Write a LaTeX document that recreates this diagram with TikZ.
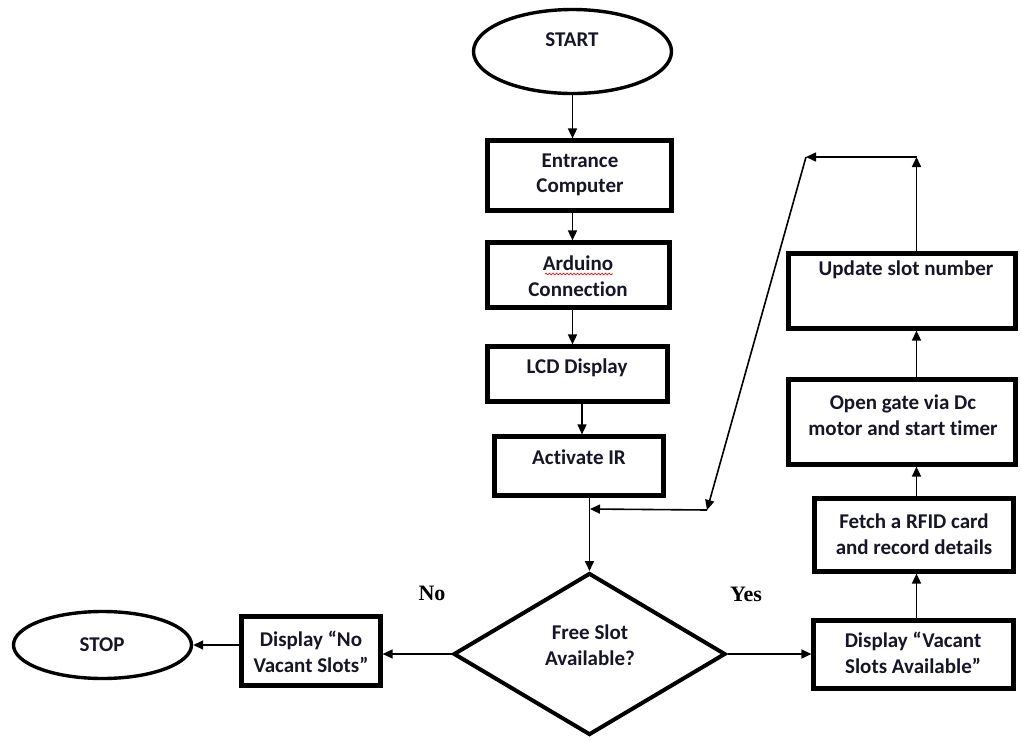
\documentclass[tikz,border=0pt]{standalone}
\usepackage{fontspec}
\setmainfont[Ligatures=NoCommon]{Carlito}
\newfontfamily\yesnofont{Liberation Serif}
\usetikzlibrary{arrows.meta,shapes.geometric,decorations.pathmorphing}
\definecolor{txt}{RGB}{22,22,40}
\tikzset{
  box/.style={draw=black, line width=4.2pt, rectangle, inner sep=0pt},
  oval/.style={draw=black, line width=3.4pt, ellipse, inner sep=0pt},
  dec/.style={draw=black, line width=4pt, diamond, inner sep=0pt},
  lbl/.style={text=txt, font=\bfseries\fontsize{21}{25.5}\selectfont, align=center, inner sep=0pt},
  yn/.style={text=black, font=\yesnofont\bfseries\fontsize{22}{26}\selectfont, inner sep=0pt},
  arr/.style={draw=black, line width=1.6pt, -{Triangle[length=10pt,width=9pt]}}
}
\begin{document}
\begin{tikzpicture}[x=1pt,y=-1pt]
\useasboundingbox (0,0) rectangle (1021,740);
% shapes
\node[oval, minimum width=198, minimum height=84] (start) at (572.5,51.5) {};
\node[box, minimum width=184, minimum height=70] (entr) at (579.5,175.5) {};
\node[box, minimum width=182, minimum height=65] (ard) at (578.5,275) {};
\node[box, minimum width=180, minimum height=55] (lcd) at (577.5,374) {};
\node[box, minimum width=169, minimum height=59] (act) at (579,466) {};
\node[dec, minimum width=272, minimum height=162] (dia) at (589.5,654) {};
\node[box, minimum width=139, minimum height=69] (novac) at (311,651) {};
\node[oval, minimum width=178, minimum height=67] (stop) at (102.5,645) {};
\node[box, minimum width=200, minimum height=68] (vac) at (913.5,654.5) {};
\node[box, minimum width=199, minimum height=73] (fetch) at (914,535) {};
\node[box, minimum width=227, minimum height=85] (open) at (902,422) {};
\node[box, minimum width=227, minimum height=75] (upd) at (902,291) {};
% texts
\node[lbl] (tstart) at (572,40) {START};
\node[lbl] (tentr) at (580,175) {Entrance\\Computer};
\node[lbl] (tard) at (578,276) {Arduino\\Connection};
\node[lbl] (tlcd) at (577,368) {LCD Display};
\node[lbl] (tact) at (579,457) {Activate IR};
\node[lbl] (tdia) at (590,645) {Free Slot\\Available?};
\node[lbl] (tnovac) at (311,652) {Display “No\\Vacant Slots”};
\node[lbl] (tstop) at (102,645) {STOP};
\node[lbl] (tvac) at (913,653) {Display “Vacant\\Slots Available”};
\node[lbl] (tfetch) at (914,534) {Fetch a RFID card\\and record details};
\node[lbl] (topen) at (903,415) {Open gate via Dc\\motor and start timer};
\node[lbl] (tupd) at (906,270) {Update slot number};
\node[yn] (no) at (432,593) {No};
\node[yn] (yes) at (746,594) {Yes};
% spell-check underline
\draw[red, line width=0.7pt, decorate, decoration={snake, amplitude=0.8pt, segment length=3.5pt}] (545,274) -- (613,274);
% connectors
\coordinate (cx) at (572.5,0);
\draw[arr] (start.south) -- (start.south |- entr.north);
\draw[arr] (entr.south -| cx) -- (ard.north -| cx);
\draw[arr] (ard.south -| cx) -- (lcd.north -| cx);
\draw[arr] ([xshift=4.5pt]lcd.south) -- ([xshift=4.5pt]lcd.south |- act.north);
\draw[arr] (act.south -| dia.north) -- (dia.north);
\draw[arr] (dia.west) -- (dia.west -| novac.east);
\draw[arr] (novac.west |- stop.east) -- (stop.east);
\draw[arr] (dia.east) -- (dia.east -| vac.west);
\coordinate (cr) at (916.5,0);
\draw[arr] (vac.north -| cr) -- (fetch.south -| cr);
\draw[arr] (fetch.north -| cr) -- (open.south -| cr);
\draw[arr] (open.north -| cr) -- (upd.south -| cr);
\coordinate (c1) at (916.5,157);
\coordinate (c2) at (806,157);
\coordinate (c3) at (707,510);
\coordinate (j) at (590,509);
\draw[arr] (upd.north -| cr) -- (c1);
\draw[arr] (c1) -- (c2);
\draw[arr] (c2) -- (c3);
\draw[arr] (c3) -- (j);
\end{tikzpicture}
\end{document}
